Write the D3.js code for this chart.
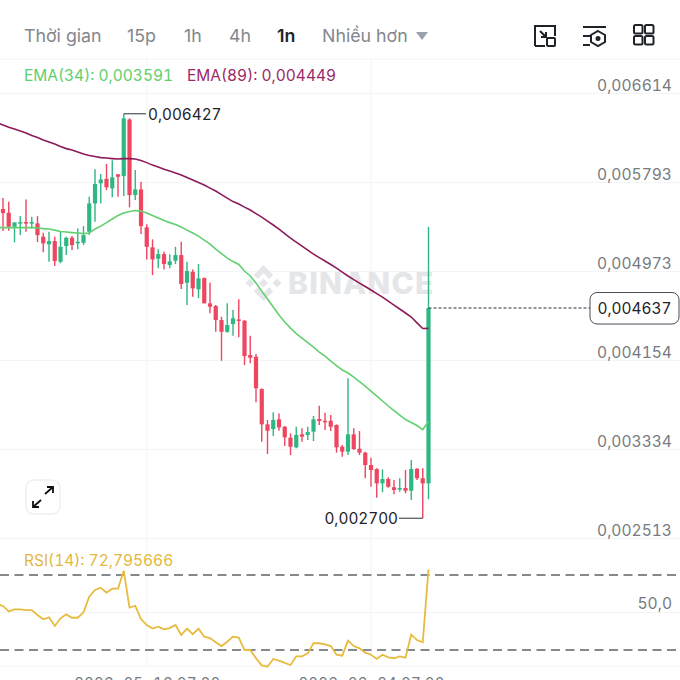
<!DOCTYPE html>
<html><head><meta charset="utf-8">
<script src="https://cdnjs.cloudflare.com/ajax/libs/d3/7.9.0/d3.min.js"></script>
<style>html,body{margin:0;padding:0;background:#fff;overflow:hidden}svg{display:block}text{font-family:Inter,"Noto Sans",sans-serif;font-variant-numeric:tabular-nums}text.tab{font-variant-numeric:normal}</style>
</head><body><svg id="c" width="680" height="680"></svg>
<script>
// Prices are in millionths (4637 = 0,004637)
const high=[5640,5650,5616,5426,5484,5638,5478,5484,5330,5340,5294,5340,5294,5300,5371,5392,5662,5915,5871,5964,6000,5869,6427,6385,5908,5800,5408,5270,5178,5155,5132,5201,5248,5063,4993,5042,4919,4870,4664,4557,4680,4618,4717,4526,4381,4213,3897,3605,3676,3666,3549,3482,3543,3528,3543,3642,3736,3672,3651,3565,3374,3989,3528,3503,3313,3257,3160,3150,3077,3052,3068,3144,3236,3160,3160,5383];
const low=[5340,5346,5349,5242,5309,5340,5371,5245,5150,5063,5024,5049,5125,5171,5178,5217,5309,5432,5601,5724,5657,5662,5669,5565,5632,5319,5085,4941,5003,4993,5003,5042,4812,4664,4741,4729,4680,4588,4418,4151,4409,4381,4367,4112,4127,3768,3405,3292,3457,3506,3365,3282,3344,3405,3421,3411,3559,3513,3503,3304,3267,3282,3328,3282,3068,2990,2889,2939,2981,2920,2944,2929,2868,3052,2700,2874];
const open=[5500,5549,5515,5386,5415,5429,5415,5417,5294,5224,5254,5063,5208,5285,5233,5238,5340,5601,5786,5828,5740,5869,5853,6375,5678,5730,5380,5196,5091,5134,5033,5073,5125,4870,4971,4809,4913,4680,4655,4526,4418,4489,4532,4520,4204,4188,3890,3565,3522,3611,3543,3442,3353,3473,3467,3497,3614,3598,3598,3559,3359,3313,3473,3340,3304,3190,3153,3021,3061,2985,2966,2978,2953,3156,3068,3021];
const close=[5549,5512,5386,5426,5429,5415,5429,5309,5233,5254,5070,5201,5285,5217,5248,5309,5601,5779,5822,5749,5841,5847,6385,5678,5730,5392,5201,5085,5134,5042,5067,5125,4858,4978,4818,4910,4680,4649,4526,4418,4480,4542,4523,4194,4179,3897,3565,3506,3605,3537,3445,3359,3467,3451,3494,3611,3596,3584,3543,3353,3313,3473,3337,3304,3190,3144,3021,3061,2990,2960,2978,2953,3153,3068,3021,4637];
const ema34=[5378,5378,5378,5378,5378,5378,5378,5374,5369,5365,5355,5342,5337,5332,5328,5323,5328,5365,5392,5424,5457,5489,5512,5526,5535,5531,5512,5489,5466,5443,5424,5406,5383,5355,5328,5300,5263,5226,5180,5139,5097,5065,5038,4978,4932,4867,4793,4720,4646,4572,4508,4452,4402,4360,4319,4277,4231,4194,4148,4107,4066,4038,4001,3959,3918,3872,3826,3780,3734,3692,3651,3609,3582,3554,3517,3591];
const ema89=[6346,6323,6304,6286,6268,6249,6226,6208,6185,6166,6148,6125,6106,6093,6074,6056,6042,6033,6023,6019,6014,6010,6014,6014,6010,5996,5977,5954,5936,5917,5899,5881,5862,5839,5816,5793,5770,5742,5715,5682,5650,5618,5595,5567,5540,5507,5475,5438,5402,5365,5323,5282,5245,5208,5171,5134,5102,5070,5038,5005,4968,4932,4899,4867,4835,4803,4770,4738,4701,4664,4628,4591,4554,4500,4448,4449];
const rsi=[54.5,53.5,50.6,51.7,51.7,51.3,51.3,48.7,46.4,47.4,42.8,46.9,49,47.2,47.2,50.1,58.4,62,63.2,60.6,62.7,62.7,72.3,52.6,53.6,46.5,43.3,41.4,42.4,41,41.7,43.3,38,41.4,38.4,41.4,37.1,36.4,34.1,32.1,34.4,37.1,36.6,30,30,25.6,21.8,21.1,25.2,24.3,23.1,22,26.6,26.6,28.2,33.6,33.6,33,32.1,27.5,27,35,32.1,30.9,28.6,27.5,25.2,27.5,26.1,25.6,26.6,25.9,38.2,35.3,34.1,73];
const priceTicks=[6614,5793,4973,4154,3334,2513];
const rsiTicks=[50];
const rsiBands=[70,30];
const dateIndex=[26,65];
const dateLabels=["2026-05-16 07:00","2026-06-24 07:00"];
const tabs=["Thời gian","15p","1h","4h","1n","Nhiều hơn"];
const tabX=[24,127,184,229,277,322];
const lastPrice=4637, maxPrice=6427, minPrice=2700;

const GREEN="#2fb783",RED="#ee4560",GRID="#f3f4f5",AXIS="#777b80";
const fmt=v=>"0,"+String(Math.round(v)).padStart(6,"0");
const svg=d3.select("#c");
const x=d3.scaleLinear().domain([0,75]).range([-2.75,428.5]);
const y=d3.scaleLinear().domain([6614,2513]).range([93.5,538.5]);
const ry=d3.scaleLinear().domain([70,30]).range([575,650]);
const L=high.length-1;

// Frame lines
[[59],[538.5],[666]].forEach(([p])=>svg.append("line").attr("x1",0).attr("x2",680).attr("y1",p).attr("y2",p).attr("stroke",GRID).attr("stroke-width",1));
// Grid
svg.append("g").selectAll("line").data(priceTicks.slice(0,5)).join("line")
 .attr("x1",0).attr("x2",680).attr("y1",d=>y(d)).attr("y2",d=>y(d)).attr("stroke",GRID);
svg.append("line").attr("x1",0).attr("x2",680).attr("y1",ry(50)).attr("y2",ry(50)).attr("stroke",GRID);
svg.append("g").selectAll("line").data(dateIndex).join("line")
 .attr("x1",d=>x(d)).attr("x2",d=>x(d)).attr("y1",59).attr("y2",666).attr("stroke",GRID);

// Watermark
const wm=svg.append("g").attr("fill","#e4e6e9");
const logo=wm.append("g").attr("transform","translate(263.5,283) scale(0.75)");
["M0,-24 L13,-11 L7.5,-5.5 L0,-13 L-7.5,-5.5 L-13,-11 Z","M0,24 L13,11 L7.5,5.5 L0,13 L-7.5,5.5 L-13,11 Z","M-24,0 L-18,-6 L-12,0 L-18,6 Z","M24,0 L18,-6 L12,0 L18,6 Z","M0,-6 L6,0 L0,6 L-6,0 Z"]
 .forEach(p=>logo.append("path").attr("d",p));
wm.append("text").attr("x",288).attr("y",294).attr("font-size",30).attr("font-weight",800).attr("letter-spacing",1.2).text("BINANCE");

// Candles
const idx=d3.range(high.length);
const col=i=>close[i]>=open[i]?GREEN:RED;
const candles=svg.append("g");
candles.selectAll("line").data(idx).join("line")
 .attr("x1",x).attr("x2",x).attr("y1",i=>y(high[i])).attr("y2",i=>y(low[i]))
 .attr("stroke",col).attr("stroke-width",1.4);
candles.selectAll("rect").data(idx).join("rect")
 .attr("x",i=>x(i)-2.1).attr("width",4.2)
 .attr("y",i=>y(Math.max(open[i],close[i])))
 .attr("height",i=>Math.max(1.5,Math.abs(y(open[i])-y(close[i]))))
 .attr("fill",col);

// EMA lines
const pl=d3.line().x((d,i)=>x(i)).y(d=>y(d)).curve(d3.curveLinear);
svg.append("path").attr("d",pl(ema89)).attr("fill","none").attr("stroke","#8d1b58").attr("stroke-width",1.6);
svg.append("path").attr("d",pl(ema34)).attr("fill","none").attr("stroke","#62d070").attr("stroke-width",1.6);

// Legends
svg.append("text").attr("x",24).attr("y",80.5).attr("font-size",15.5).attr("fill","#5ecf6d").text("EMA(34): "+fmt(ema34[L]));
svg.append("text").attr("x",187).attr("y",80.5).attr("font-size",15.5).attr("fill","#9b2a68").text("EMA(89): "+fmt(ema89[L]));

// Axes
const axisP=d3.axisRight(y).tickValues(priceTicks).tickFormat(fmt).tickSize(0);
const gp=svg.append("g").attr("transform","translate(672,0)").call(axisP);
gp.select(".domain").remove();
gp.selectAll("text").attr("x",0).attr("text-anchor","end").attr("dy",-3.4).attr("font-size",15.6).attr("font-family","Inter").attr("fill",AXIS);
const axisR=d3.axisRight(ry).tickValues(rsiTicks).tickFormat(d=>d.toFixed(1).replace(".",",")).tickSize(0);
const gr=svg.append("g").attr("transform","translate(672,0)").call(axisR);
gr.select(".domain").remove();
gr.selectAll("text").attr("x",0).attr("text-anchor","end").attr("dy",-4.4).attr("font-size",15.6).attr("font-family","Inter").attr("fill",AXIS);
const axisD=d3.axisBottom(x).tickValues(dateIndex).tickFormat((d,i)=>dateLabels[i]).tickSize(0);
const gd=svg.append("g").attr("transform","translate(0,675)").call(axisD);
gd.select(".domain").remove();
gd.selectAll("text").attr("y",0).attr("dy","0.9em").attr("font-size",15.2).attr("font-family","Inter").attr("fill",AXIS);

// Extremes
svg.append("path").attr("d",`M${x(22)},${y(maxPrice)}H146`).attr("stroke","#2b3139").attr("fill","none");
svg.append("text").attr("x",148).attr("y",y(maxPrice)+6).attr("font-size",15.3).attr("fill","#1e2329").text(fmt(maxPrice));
svg.append("path").attr("d",`M399,${y(minPrice)}H${x(74)}`).attr("stroke","#2b3139").attr("fill","none");
svg.append("text").attr("x",398).attr("y",y(minPrice)+6).attr("text-anchor","end").attr("font-size",15.3).attr("fill","#1e2329").text(fmt(minPrice));

// Last price
svg.append("line").attr("x1",x(L)).attr("x2",590).attr("y1",y(lastPrice)).attr("y2",y(lastPrice)).attr("stroke","#2b3139").attr("stroke-dasharray","3,2");
svg.append("rect").attr("x",590).attr("y",y(lastPrice)-15.5).attr("width",89).attr("height",31.5).attr("rx",7).attr("fill","#fff").attr("stroke","#474d57").attr("stroke-width",1);
svg.append("text").attr("x",634.5).attr("y",y(lastPrice)+6).attr("text-anchor","middle").attr("font-size",15.4).attr("fill","#1e2329").text(fmt(lastPrice));

// RSI
const rl=d3.line().x((d,i)=>x(i)).y(d=>ry(d));
svg.append("g").selectAll("line").data(rsiBands).join("line")
 .attr("x1",0).attr("x2",680).attr("y1",d=>ry(d)).attr("y2",d=>ry(d)).attr("stroke","#85888d").attr("stroke-width",1.8).attr("stroke-dasharray","9,5.5");
svg.append("path").attr("d",rl(rsi)).attr("fill","none").attr("stroke","#e8bb3f").attr("stroke-width",1.8);
svg.append("text").attr("x",24).attr("y",566).attr("font-size",15.5).attr("fill","#e3b83f").text("RSI(14): 72,795666");

// Toolbar
svg.append("g").selectAll("text").data(tabs).join("text").attr("class","tab")
 .attr("x",(d,i)=>tabX[i]).attr("y",42).attr("font-size",17.8)
 .attr("fill",d=>d==="1n"?"#1e2329":"#83878d").attr("font-weight",d=>d==="1n"?600:400).text(d=>d);
svg.append("path").attr("d","M416,32H428L422,40Z").attr("fill","#9aa1ab");
const ic=svg.append("g").attr("fill","none").attr("stroke","#1e2329").attr("stroke-width",2);
ic.append("path").attr("d","M535,46V26H555V36M535,46H545");
ic.append("rect").attr("x",547).attr("y",38).attr("width",8).attr("height",8).attr("rx",1);
ic.append("path").attr("d","M540,31L546,37M541,37H546V32");
ic.append("path").attr("d","M583,27H606M583,36H590M583,45H590");
ic.append("path").attr("d","M598,31L605,35V42L598,46L591,42V35Z");
ic.append("circle").attr("cx",598).attr("cy",38.5).attr("r",1.5).attr("fill","#1e2329");
[[634,25],[645,25],[634,36],[645,36]].forEach(([a,b])=>ic.append("rect").attr("x",a).attr("y",b).attr("width",8.5).attr("height",8.5).attr("rx",1.5));

// Expand button
svg.append("rect").attr("x",26).attr("y",480).attr("width",34).attr("height",34).attr("rx",8).attr("fill","#fff").attr("stroke","#eeeff1").attr("stroke-width",1.5);
const ex=svg.append("g").attr("fill","none").attr("stroke","#111").attr("stroke-width",1.8);
ex.append("path").attr("d","M45,494L53,487M47,487H53V493");
ex.append("path").attr("d","M41,500L33,507M33,501V507H39");
</script></body></html>
